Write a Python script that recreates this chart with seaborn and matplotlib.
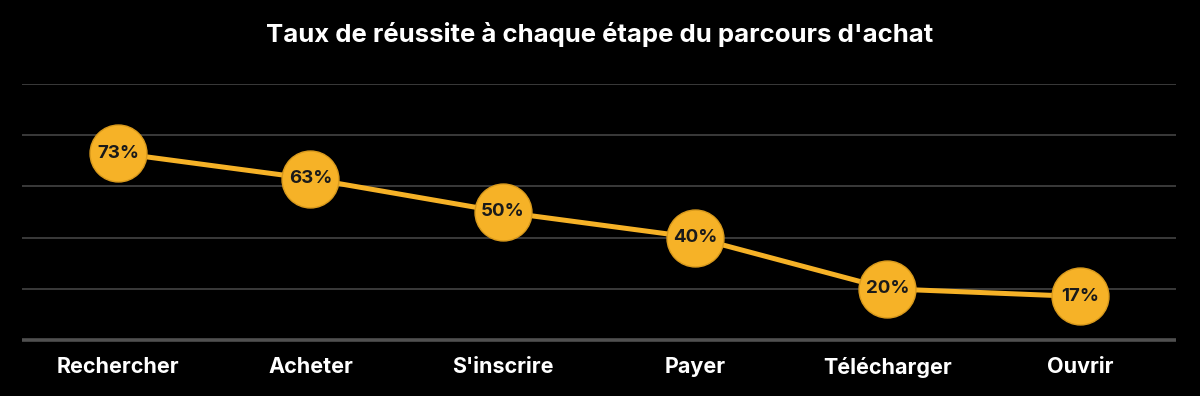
import pandas as pd
import matplotlib.pyplot as plt
import seaborn as sns

# Purchase journey steps and success rates (%)
etapes = ['Rechercher', 'Acheter', "S'inscrire", 'Payer', 'Télécharger', 'Ouvrir']
taux = [73, 63, 50, 40, 20, 17]

df = pd.DataFrame({'etape': etapes, 'taux': taux})
df['pos'] = range(len(df))

sns.set_theme(style="dark")
plt.rcParams['font.family'] = ['Inter', 'DejaVu Sans']

jaune = '#F6B227'
fig = plt.figure(figsize=(12, 3.96), dpi=100, facecolor='black')
ax = fig.add_axes([0.0183, 0.1414, 0.9617, 0.6466])
ax.set_facecolor('black')

sns.lineplot(data=df, x='pos', y='taux', ax=ax, color=jaune, linewidth=3.6,
             marker='o', markersize=41, markerfacecolor=jaune,
             markeredgecolor='#D99A1C', markeredgewidth=1.0, zorder=3)

for x, y in zip(df['pos'], df['taux']):
    ax.text(x, y, f'{y}%', ha='center', va='center', fontsize=13.5,
            fontweight='bold', color='#1a1a1a', zorder=4)

ax.set_xlim(-0.5, len(df) - 0.5)
ax.set_ylim(0, 100)
ax.set_yticks([20, 40, 60, 80, 100])
ax.set_yticklabels([])
ax.tick_params(axis='y', length=0)
ax.grid(axis='y', color='#3a3a3a', linewidth=1.4)
ax.grid(axis='x', visible=False)
ax.axhline(0, color='#505050', linewidth=2.6, zorder=2, clip_on=False,
           solid_capstyle='butt')

ax.set_xticks(df['pos'])
ax.set_xticklabels(df['etape'], color='white', fontsize=15.5, fontweight='bold')
ax.tick_params(axis='x', length=0, pad=12)
ax.set_xlabel('')
ax.set_ylabel('')
for s in ax.spines.values():
    s.set_visible(False)

fig.suptitle("Taux de réussite à chaque étape du parcours d'achat", color='white',
             fontsize=18.5, fontweight='bold', y=0.945)

fig.savefig('out.png', facecolor='black')
